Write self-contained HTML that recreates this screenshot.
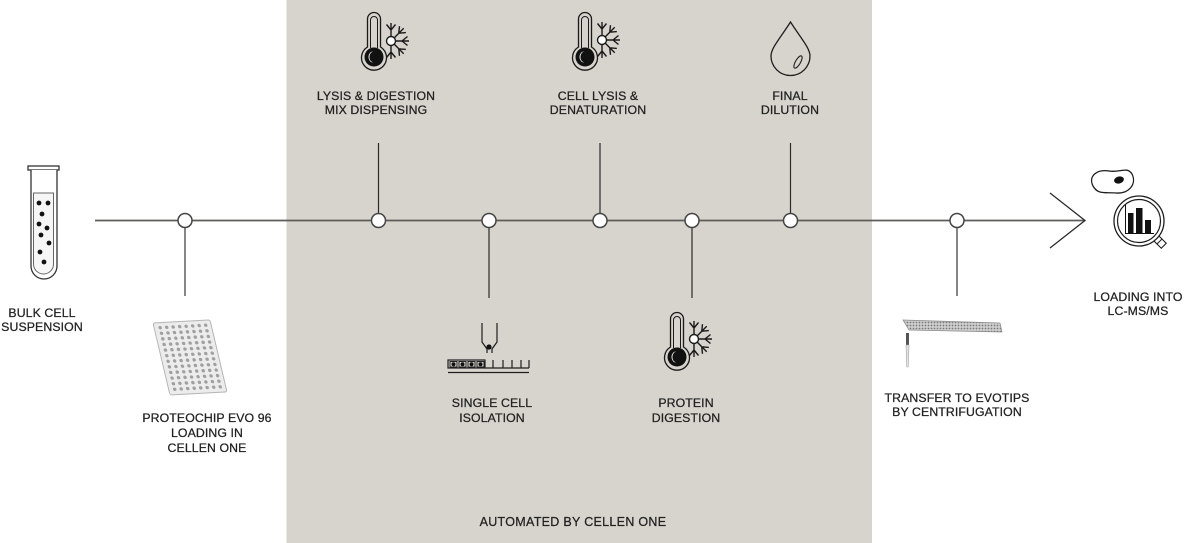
<!DOCTYPE html>
<html><head><meta charset="utf-8">
<style>
html,body{margin:0;padding:0;background:#fff;}
svg{display:block;}
text{font-family:"Liberation Sans",Arial,sans-serif;font-size:12.3px;fill:#222;stroke:#222;stroke-width:0.25px;text-anchor:middle;letter-spacing:0.1px;}
</style></head>
<body>
<svg width="1191" height="543" viewBox="0 0 1191 543" xmlns="http://www.w3.org/2000/svg">
<defs>
  <g id="arm"><path d="M4.5 0H18M11 0L16.5 -4.5M11 0L16.5 4.5" fill="none" stroke="#1a1a1a" stroke-width="1.4"/></g>
  <g id="sf">
    <use href="#arm" transform="rotate(-90)"/>
    <use href="#arm" transform="rotate(-45)"/>
    <use href="#arm" transform="rotate(0)"/>
    <use href="#arm" transform="rotate(45)"/>
    <use href="#arm" transform="rotate(90)"/>
    <circle r="4.5" fill="#fff" stroke="#1a1a1a" stroke-width="1.4"/>
  </g>
  <g id="therm">
    <path d="M-6.5,-10 V-38 A6.5,6.5 0 0 1 6.5,-38 V-10 A12.5,12.5 0 1 1 -6.5,-10 Z" fill="#d7d3cd" stroke="#1a1a1a" stroke-width="1.3"/>
    <path d="M-3.5,-9 V-37 A3.5,3.5 0 0 1 3.5,-37 V-9" fill="none" stroke="#1a1a1a" stroke-width="1"/>
    <circle r="9.5" fill="#111"/>
    <path d="M-1,-5.5 A6,6 0 0 0 -1,5.5 A4.5,5.5 0 0 1 -1,-5.5 Z" fill="#fff"/>
  </g>
  <pattern id="dots" x="0" y="0" width="3" height="3" patternUnits="userSpaceOnUse">
    <rect width="3" height="3" fill="#d0d0d0"/>
    <circle cx="1.5" cy="1.5" r="0.9" fill="#7a7a7a"/>
  </pattern>
</defs>

<!-- automated panel -->
<rect x="286.5" y="0" width="585.5" height="543" fill="#d7d3cd"/>

<!-- main timeline -->
<line x1="95" y1="220.5" x2="1085" y2="220.5" stroke="#5e5d59" stroke-width="1.7"/>
<path d="M1050,193 L1085,220.5 L1050,248" fill="none" stroke="#2a2a2a" stroke-width="1.3"/>

<!-- connectors -->
<g stroke="#2a2a2a" stroke-width="1.2">
  <line x1="378.5" y1="143" x2="378.5" y2="214"/>
  <line x1="600" y1="143" x2="600" y2="214"/>
  <line x1="790.5" y1="143" x2="790.5" y2="214"/>
  <line x1="489" y1="227" x2="489" y2="298"/>
  <line x1="692" y1="227" x2="692" y2="298"/>
</g>
<g stroke="#5e5d59" stroke-width="1.5">
  <line x1="185" y1="227" x2="185" y2="296"/>
  <line x1="957" y1="227" x2="957" y2="296"/>
</g>

<!-- nodes -->
<g fill="#fff" stroke="#444" stroke-width="1.5">
  <circle cx="185" cy="220.5" r="7"/>
  <circle cx="378.5" cy="220.5" r="7"/>
  <circle cx="489" cy="220.5" r="7"/>
  <circle cx="600" cy="220.5" r="7"/>
  <circle cx="692" cy="220.5" r="7"/>
  <circle cx="790.5" cy="220.5" r="7"/>
  <circle cx="957" cy="220.5" r="7"/>
</g>

<!-- test tube -->
<g stroke="#333" stroke-width="1.3">
  <rect x="28" y="166" width="31" height="4" fill="#fff"/>
  <path d="M31,170 V266 A13,13 0 0 0 57,266 V170" fill="#fff"/>
  <path d="M33.5,193 H53.5 V264 A10,10 0 0 1 33.5,264 Z" fill="#f6f6f6" stroke="#666" stroke-width="1"/>
</g>
<g fill="#111">
  <circle cx="39" cy="203" r="2.4"/><circle cx="48" cy="203" r="2.4"/>
  <circle cx="42" cy="214" r="2.4"/><circle cx="39" cy="224" r="2.4"/>
  <circle cx="47" cy="228" r="2.4"/><circle cx="41" cy="235" r="2.4"/>
  <circle cx="49" cy="243" r="2.4"/><circle cx="40" cy="252" r="2.4"/>
  <circle cx="44" cy="262" r="2.4"/>
</g>
<text x="42" y="317">BULK CELL</text>
<text x="42" y="331">SUSPENSION</text>

<!-- proteochip plate -->
<g transform="matrix(1,-0.054,0.236,1,153,323)">
  <rect x="0" y="0" width="57" height="72" rx="2" fill="#ececec" stroke="#b5b5b5" stroke-width="1"/>
  <g fill="#a0a0a0">
    <circle cx="6" cy="5" r="1.7"/><circle cx="12.5" cy="5" r="1.7"/><circle cx="19" cy="5" r="1.7"/><circle cx="25.5" cy="5" r="1.7"/><circle cx="32" cy="5" r="1.7"/><circle cx="38.5" cy="5" r="1.7"/><circle cx="45" cy="5" r="1.7"/><circle cx="51.5" cy="5" r="1.7"/>
    <circle cx="6" cy="10.6" r="1.7"/><circle cx="12.5" cy="10.6" r="1.7"/><circle cx="19" cy="10.6" r="1.7"/><circle cx="25.5" cy="10.6" r="1.7"/><circle cx="32" cy="10.6" r="1.7"/><circle cx="38.5" cy="10.6" r="1.7"/><circle cx="45" cy="10.6" r="1.7"/><circle cx="51.5" cy="10.6" r="1.7"/>
    <circle cx="6" cy="16.2" r="1.7"/><circle cx="12.5" cy="16.2" r="1.7"/><circle cx="19" cy="16.2" r="1.7"/><circle cx="25.5" cy="16.2" r="1.7"/><circle cx="32" cy="16.2" r="1.7"/><circle cx="38.5" cy="16.2" r="1.7"/><circle cx="45" cy="16.2" r="1.7"/><circle cx="51.5" cy="16.2" r="1.7"/>
    <circle cx="6" cy="21.8" r="1.7"/><circle cx="12.5" cy="21.8" r="1.7"/><circle cx="19" cy="21.8" r="1.7"/><circle cx="25.5" cy="21.8" r="1.7"/><circle cx="32" cy="21.8" r="1.7"/><circle cx="38.5" cy="21.8" r="1.7"/><circle cx="45" cy="21.8" r="1.7"/><circle cx="51.5" cy="21.8" r="1.7"/>
    <circle cx="6" cy="27.4" r="1.7"/><circle cx="12.5" cy="27.4" r="1.7"/><circle cx="19" cy="27.4" r="1.7"/><circle cx="25.5" cy="27.4" r="1.7"/><circle cx="32" cy="27.4" r="1.7"/><circle cx="38.5" cy="27.4" r="1.7"/><circle cx="45" cy="27.4" r="1.7"/><circle cx="51.5" cy="27.4" r="1.7"/>
    <circle cx="6" cy="33" r="1.7"/><circle cx="12.5" cy="33" r="1.7"/><circle cx="19" cy="33" r="1.7"/><circle cx="25.5" cy="33" r="1.7"/><circle cx="32" cy="33" r="1.7"/><circle cx="38.5" cy="33" r="1.7"/><circle cx="45" cy="33" r="1.7"/><circle cx="51.5" cy="33" r="1.7"/>
    <circle cx="6" cy="38.6" r="1.7"/><circle cx="12.5" cy="38.6" r="1.7"/><circle cx="19" cy="38.6" r="1.7"/><circle cx="25.5" cy="38.6" r="1.7"/><circle cx="32" cy="38.6" r="1.7"/><circle cx="38.5" cy="38.6" r="1.7"/><circle cx="45" cy="38.6" r="1.7"/><circle cx="51.5" cy="38.6" r="1.7"/>
    <circle cx="6" cy="44.2" r="1.7"/><circle cx="12.5" cy="44.2" r="1.7"/><circle cx="19" cy="44.2" r="1.7"/><circle cx="25.5" cy="44.2" r="1.7"/><circle cx="32" cy="44.2" r="1.7"/><circle cx="38.5" cy="44.2" r="1.7"/><circle cx="45" cy="44.2" r="1.7"/><circle cx="51.5" cy="44.2" r="1.7"/>
    <circle cx="6" cy="49.8" r="1.7"/><circle cx="12.5" cy="49.8" r="1.7"/><circle cx="19" cy="49.8" r="1.7"/><circle cx="25.5" cy="49.8" r="1.7"/><circle cx="32" cy="49.8" r="1.7"/><circle cx="38.5" cy="49.8" r="1.7"/><circle cx="45" cy="49.8" r="1.7"/><circle cx="51.5" cy="49.8" r="1.7"/>
    <circle cx="6" cy="55.4" r="1.7"/><circle cx="12.5" cy="55.4" r="1.7"/><circle cx="19" cy="55.4" r="1.7"/><circle cx="25.5" cy="55.4" r="1.7"/><circle cx="32" cy="55.4" r="1.7"/><circle cx="38.5" cy="55.4" r="1.7"/><circle cx="45" cy="55.4" r="1.7"/><circle cx="51.5" cy="55.4" r="1.7"/>
    <circle cx="6" cy="61" r="1.7"/><circle cx="12.5" cy="61" r="1.7"/><circle cx="19" cy="61" r="1.7"/><circle cx="25.5" cy="61" r="1.7"/><circle cx="32" cy="61" r="1.7"/><circle cx="38.5" cy="61" r="1.7"/><circle cx="45" cy="61" r="1.7"/><circle cx="51.5" cy="61" r="1.7"/>
    <circle cx="6" cy="66.6" r="1.7"/><circle cx="12.5" cy="66.6" r="1.7"/><circle cx="19" cy="66.6" r="1.7"/><circle cx="25.5" cy="66.6" r="1.7"/><circle cx="32" cy="66.6" r="1.7"/><circle cx="38.5" cy="66.6" r="1.7"/><circle cx="45" cy="66.6" r="1.7"/><circle cx="51.5" cy="66.6" r="1.7"/>
  </g>
</g>
<text x="207" y="422">PROTEOCHIP EVO 96</text>
<text x="207" y="437">LOADING IN</text>
<text x="207" y="452">CELLEN ONE</text>

<!-- lysis & digestion -->
<use href="#sf" transform="translate(391,41)"/>
<use href="#therm" transform="translate(374,57)"/>
<text x="376" y="100">LYSIS &amp; DIGESTION</text>
<text x="376" y="114">MIX DISPENSING</text>

<!-- cell lysis -->
<use href="#sf" transform="translate(602,40)"/>
<use href="#therm" transform="translate(585,57)"/>
<text x="598" y="100">CELL LYSIS &amp;</text>
<text x="598" y="114">DENATURATION</text>

<!-- final dilution -->
<path d="M790.5,22 C781,37 771,48 771,56 A19.5,19.5 0 0 0 810,56 C810,48 800,37 790.5,22 Z" fill="none" stroke="#1e1e1e" stroke-width="1.3"/>
<ellipse cx="798" cy="62" rx="2.5" ry="7" transform="rotate(30 798 62)" fill="none" stroke="#1e1e1e" stroke-width="1.1"/>
<text x="790" y="100">FINAL</text>
<text x="790" y="114">DILUTION</text>

<!-- single cell isolation -->
<g stroke="#1e1e1e" stroke-width="1.2" fill="none">
  <path d="M482,323 V342 L487,349 V353 M497,323 V342 L492,349 V353"/>
  <rect x="448" y="360" width="37" height="8" fill="#d7d3cd"/>
  <path d="M493,360 V368 M503,360 V368 M512,360 V368 M521,360 V368 M529,360 V368 M485,368 H529"/>
  <path d="M448,372.5 H529"/>
</g>
<circle cx="489" cy="347" r="2.6" fill="#111"/>
<g fill="#111">
  <rect x="450" y="361.5" width="7" height="5.5" fill="none" stroke="#111" stroke-width="0.9"/>
  <rect x="459" y="361.5" width="7" height="5.5" fill="none" stroke="#111" stroke-width="0.9"/>
  <rect x="468" y="361.5" width="7" height="5.5" fill="none" stroke="#111" stroke-width="0.9"/>
  <rect x="477" y="361.5" width="7" height="5.5" fill="none" stroke="#111" stroke-width="0.9"/>
  <circle cx="453.5" cy="364.2" r="2"/><circle cx="462.5" cy="364.2" r="2"/><circle cx="471.5" cy="364.2" r="2"/><circle cx="480.5" cy="364.2" r="2"/>
</g>
<text x="492" y="407">SINGLE CELL</text>
<text x="492" y="422">ISOLATION</text>

<!-- protein digestion -->
<use href="#sf" transform="translate(694,339)"/>
<use href="#therm" transform="translate(677,357)"/>
<text x="686" y="407">PROTEIN</text>
<text x="686" y="422">DIGESTION</text>

<!-- transfer to evotips -->
<polygon points="903,320 1000,323 1002,332 909,330" fill="url(#dots)" stroke="#8a8a8a" stroke-width="0.7"/>
<rect x="906" y="333" width="3" height="12" fill="#555"/>
<path d="M906,345 H909 L908.2,367 H906.8 Z" fill="#e2e2e2" stroke="#a5a5a5" stroke-width="0.6"/>
<text x="957" y="402">TRANSFER TO EVOTIPS</text>
<text x="957" y="416">BY CENTRIFUGATION</text>

<!-- LC-MS/MS icon -->
<path d="M1093,186 C1088,176 1097,169 1109,171 C1120,173 1127,166 1132,174 C1137,184 1129,194 1116,193 C1105,192 1098,195 1093,186 Z" fill="#fff" stroke="#1e1e1e" stroke-width="1.3"/>
<ellipse cx="1119" cy="180" rx="5" ry="3.5" transform="rotate(-15 1119 180)" fill="#111"/>
<g transform="translate(1139,221) rotate(45)">
  <rect x="24" y="-3.5" width="11" height="7" fill="#fff" stroke="#1e1e1e" stroke-width="1.1"/>
  <line x1="29" y1="-3.5" x2="29" y2="3.5" stroke="#1e1e1e" stroke-width="1"/>
</g>
<circle cx="1139" cy="221" r="25" fill="#fff" stroke="#1e1e1e" stroke-width="1.3"/>
<circle cx="1139" cy="221" r="21.5" fill="#fff" stroke="#1e1e1e" stroke-width="1.2"/>
<g fill="#111">
  <rect x="1128" y="213" width="5.5" height="20"/>
  <rect x="1136" y="208" width="6.5" height="25"/>
  <rect x="1145" y="220" width="6" height="13"/>
</g>
<path d="M1125.5,205 V233.5 H1154" fill="none" stroke="#111" stroke-width="1"/>
<text x="1138" y="301">LOADING INTO</text>
<text x="1138" y="315">LC-MS/MS</text>

<!-- panel caption -->
<text x="573" y="526" style="font-size:12.5px;letter-spacing:0.3px">AUTOMATED BY CELLEN ONE</text>
</svg>
</body></html>
